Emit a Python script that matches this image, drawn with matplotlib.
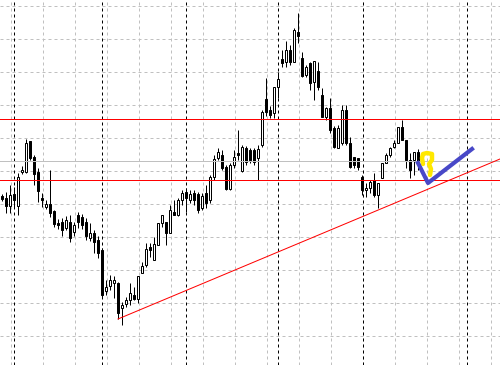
import numpy as np
import matplotlib
matplotlib.use("Agg")
import matplotlib.pyplot as plt

# prices in points (1 point = 0.0001)
opens = [13304, 13302, 13294, 13306, 13294, 13328, 13328, 13359, 13343, 13328,
         13302, 13293, 13296, 13289, 13277, 13278, 13272, 13278, 13268, 13285,
         13283, 13278, 13262, 13267, 13260, 13250, 13209, 13214, 13217, 13217,
         13192, 13196, 13200, 13205, 13201, 13227, 13235, 13253, 13240, 13255,
         13277, 13278, 13267, 13288, 13285, 13300, 13308, 13300, 13307, 13306,
         13292, 13307, 13300, 13323, 13342, 13345, 13333, 13311, 13335, 13347,
         13329, 13352, 13350, 13350, 13342, 13355, 13401, 13390, 13387, 13413,
         13441, 13438, 13450, 13438, 13468, 13442, 13425, 13437, 13418, 13429,
         13405, 13383, 13392, 13372, 13352, 13357, 13390, 13357, 13343, 13342,
         13323, 13310, 13312, 13320, 13305, 13322, 13337, 13345, 13353, 13357,
         13373, 13360, 13340, 13340, 13348]
highs = [13306, 13308, 13315, 13313, 13327, 13334, 13361, 13359, 13345, 13332,
         13307, 13300, 13330, 13290, 13281, 13282, 13284, 13285, 13278, 13288,
         13286, 13282, 13277, 13270, 13264, 13252, 13220, 13225, 13224, 13218,
         13198, 13203, 13217, 13213, 13224, 13238, 13257, 13257, 13263, 13277,
         13285, 13278, 13295, 13300, 13302, 13310, 13312, 13310, 13310, 13308,
         13307, 13315, 13325, 13345, 13352, 13350, 13335, 13337, 13350, 13370,
         13355, 13354, 13352, 13352, 13355, 13390, 13422, 13394, 13413, 13428,
         13450, 13459, 13455, 13472, 13487, 13448, 13435, 13438, 13439, 13438,
         13412, 13393, 13402, 13374, 13375, 13395, 13395, 13363, 13343, 13342,
         13325, 13317, 13320, 13327, 13317, 13337, 13347, 13353, 13360, 13373,
         13380, 13360, 13347, 13348, 13351]
lows = [13299, 13287, 13287, 13292, 13285, 13326, 13327, 13340, 13315, 13298,
        13293, 13291, 13283, 13273, 13271, 13264, 13270, 13258, 13264, 13272,
        13271, 13260, 13259, 13247, 13242, 13202, 13205, 13210, 13202, 13181,
        13175, 13193, 13195, 13200, 13197, 13227, 13233, 13243, 13240, 13255,
        13273, 13255, 13267, 13285, 13284, 13295, 13288, 13297, 13295, 13287,
        13290, 13292, 13297, 13320, 13340, 13330, 13310, 13310, 13332, 13340,
        13328, 13335, 13337, 13335, 13320, 13353, 13384, 13382, 13382, 13402,
        13433, 13433, 13435, 13438, 13457, 13423, 13423, 13410, 13400, 13410,
        13383, 13380, 13367, 13352, 13352, 13355, 13355, 13332, 13332, 13330,
        13305, 13303, 13307, 13303, 13292, 13322, 13337, 13343, 13352, 13357,
        13360, 13332, 13322, 13325, 13330]
closes = [13301, 13294, 13305, 13300, 13323, 13330, 13357, 13342, 13326, 13309,
          13300, 13296, 13287, 13276, 13275, 13270, 13280, 13262, 13275, 13278,
          13275, 13264, 13267, 13258, 13247, 13205, 13213, 13220, 13220, 13187,
          13195, 13200, 13207, 13201, 13224, 13234, 13251, 13250, 13256, 13277,
          13285, 13267, 13290, 13285, 13300, 13307, 13302, 13306, 13300, 13290,
          13304, 13297, 13323, 13341, 13348, 13332, 13311, 13335, 13343, 13345,
          13353, 13338, 13340, 13338, 13351, 13388, 13388, 13385, 13413, 13421,
          13437, 13450, 13438, 13470, 13464, 13424, 13433, 13417, 13439, 13413,
          13383, 13392, 13370, 13353, 13372, 13390, 13357, 13333, 13335, 13333,
          13310, 13312, 13318, 13305, 13317, 13337, 13345, 13352, 13357, 13373,
          13360, 13340, 13330, 13348, 13338]

# horizontal levels
red_levels = [13381, 13320]
bid_level = 13339

# trend line (bar index, price)
trend_x = [29, 124.5]
trend_y = [13181, 13341]

# hand drawn marks
blue_x = [104, 106.5, 117.5]
blue_y = [13337, 13317, 13351]
yellow_x = [105.25, 105.0, 105.25, 106.25, 107.5, 107.5, 106.75, 107.25, 107.0]
yellow_y = [13336, 13342, 13346, 13347, 13346, 13340, 13336, 13331, 13325]

# day separators (bar index)
sep_bars = [3, 25, 46, 69, 90.25, 116.25]

px = 0.72  # one pixel in points

fig = plt.figure(figsize=(5, 3.65), dpi=100)
ax = fig.add_axes([0, 0, 1, 1])
ax.set_xlim(-0.5, 124.5)
ax.set_ylim(13135, 13500)
ax.axis("off")

# grid
for gx in np.arange(2.25, 124.5, 8):
    ax.axvline(gx, color="#c0c0c0", lw=px, ls=(0, (3, 3)), zorder=0)
for gy in np.arange(13494, 13135, -33):
    ax.axhline(gy, color="#c0c0c0", lw=px, ls=(0, (3, 3)), zorder=0)
for sx in sep_bars:
    ax.axvline(sx, color="black", lw=px, ls=(0, (3, 3)), zorder=1)

# candles
o = np.array(opens)
h = np.array(highs)
l = np.array(lows)
c = np.array(closes)
idx = np.arange(len(o))
ax.vlines(idx, l, h, color="black", lw=px, zorder=2)
up = c >= o
body_low = np.minimum(o, c)
body_h = np.maximum(np.abs(c - o), 1)
ax.bar(idx[up], body_h[up], bottom=body_low[up], width=0.55,
       color="white", edgecolor="black", linewidth=px, zorder=3)
ax.bar(idx[~up], body_h[~up], bottom=body_low[~up], width=0.55,
       color="black", edgecolor="black", linewidth=px, zorder=3)

# lines
ax.axhline(bid_level, color="#c0c0c0", lw=px, zorder=4)
for lv in red_levels:
    ax.axhline(lv, color="red", lw=px, zorder=4)
ax.plot(trend_x, trend_y, color="red", lw=px, zorder=4)

ax.plot(yellow_x, yellow_y, color="#ffe800", lw=3.2, zorder=5,
        solid_capstyle="round", solid_joinstyle="round")
ax.plot(blue_x, blue_y, color="#4848c8", lw=3, zorder=6)

plt.savefig("out.png", dpi=100)
